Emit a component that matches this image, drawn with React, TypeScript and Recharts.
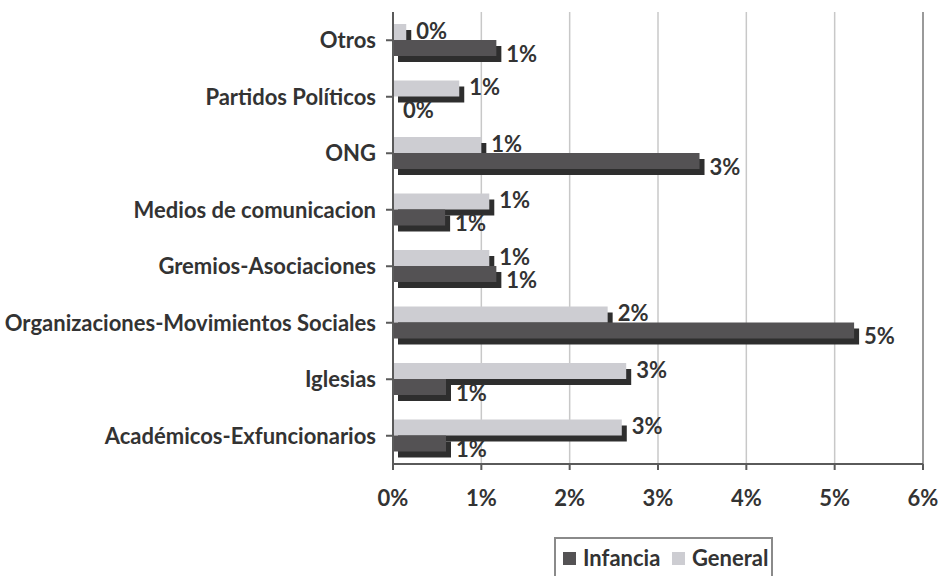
import React from 'react'
import {
  BarChart,
  Bar,
  XAxis,
  YAxis,
  CartesianGrid,
  ReferenceLine,
  LabelList,
} from 'recharts'

const categories = [
  'Otros',
  'Partidos Políticos',
  'ONG',
  'Medios de comunicacion',
  'Gremios-Asociaciones',
  'Organizaciones-Movimientos Sociales',
  'Iglesias',
  'Académicos-Exfuncionarios',
]
const general = [0.15, 0.75, 1.0, 1.09, 1.09, 2.43, 2.64, 2.59]
const infancia = [1.17, 0, 3.47, 0.59, 1.17, 5.22, 0.6, 0.6]
const xTicks = [0, 1, 2, 3, 4, 5, 6]

const FONT = 'Lato, "Open Sans", sans-serif'
const TEXT = '#333333'
const LIGHT = '#cdcdd2'
const DARK = '#545254'
const SHADOW = '#2e2e2e'
const FS = 22

const data = categories.map((name, i) => ({
  name,
  general: general[i],
  infancia: infancia[i],
}))

// barra con sombra desplazada, como en el grafico de Excel
const ShadowBar = (props: any) => {
  const { x, y, width, height, fill } = props
  if (width == null || height == null) return null
  return (
    <g>
      <rect x={x + 5} y={y + 6} width={Math.max(width, 0)} height={height} fill={SHADOW} />
      <rect x={x} y={y} width={Math.max(width, 0)} height={height} fill={fill} />
    </g>
  )
}

const makeLabel = (dy: number) => (props: any) => {
  const { x, y, width, height, value } = props
  return (
    <text
      x={x + width + 10}
      y={y + height / 2 + dy}
      dominantBaseline="central"
      fill={TEXT}
      fontFamily={FONT}
      fontWeight={700}
      fontSize={FS}
    >
      {Math.round(value)}%
    </text>
  )
}

export default function App() {
  return (
    <div style={{ position: 'absolute', left: 0, top: 0, width: 939, height: 576, background: '#fff' }}>
      <BarChart
        width={939}
        height={576}
        data={data}
        layout="vertical"
        margin={{ top: 12, right: 16, bottom: 72, left: 0 }}
        barGap={0}
        barSize={16}
      >
        <CartesianGrid horizontal={false} stroke="#c8c8c8" strokeWidth={1.5} />
        <XAxis
          type="number"
          domain={[0, 6]}
          ticks={xTicks}
          interval={0}
          tickFormatter={(v) => `${v}%`}
          height={40}
          tickSize={6}
          tickMargin={20}
          axisLine={{ stroke: '#5a5a5a', strokeWidth: 2 }}
          tickLine={{ stroke: '#5a5a5a', strokeWidth: 2 }}
          tick={{ fill: TEXT, fontFamily: FONT, fontWeight: 700, fontSize: FS }}
        />
        <XAxis
          xAxisId="top"
          orientation="top"
          type="number"
          domain={[0, 6]}
          height={0}
          tick={false}
          tickLine={false}
          axisLine={{ stroke: '#c0c0c0', strokeWidth: 2 }}
        />
        <YAxis
          type="category"
          dataKey="name"
          width={393}
          interval={0}
          tickSize={7}
          tickMargin={10}
          axisLine={{ stroke: '#5a5a5a', strokeWidth: 2 }}
          tickLine={{ stroke: '#5a5a5a', strokeWidth: 2 }}
          tick={{ fill: TEXT, fontFamily: FONT, fontWeight: 700, fontSize: FS }}
        />
        <ReferenceLine x={6} stroke="#9a9a9a" strokeWidth={2} />
        <Bar dataKey="general" name="General" fill={LIGHT} shape={ShadowBar} isAnimationActive={false}>
          <LabelList dataKey="general" content={makeLabel(-2)} />
        </Bar>
        <Bar dataKey="infancia" name="Infancia" fill={DARK} shape={ShadowBar} isAnimationActive={false}>
          <LabelList dataKey="infancia" content={makeLabel(5)} />
        </Bar>
      </BarChart>

      {/* leyenda */}
      <svg
        width={939}
        height={576}
        style={{ position: 'absolute', left: 0, top: 0, pointerEvents: 'none' }}
      >
        <rect x={555} y={538} width={217} height={45} fill="#fff" stroke="#8a8a8a" strokeWidth={2} />
        <rect x={563} y={552} width={13} height={13} fill={DARK} />
        <text x={583} y={566} fill={TEXT} fontFamily={FONT} fontWeight={700} fontSize={FS}>
          Infancia
        </text>
        <rect x={672} y={552} width={13} height={13} fill={LIGHT} />
        <text x={692} y={566} fill={TEXT} fontFamily={FONT} fontWeight={700} fontSize={FS}>
          General
        </text>
      </svg>
    </div>
  )
}
